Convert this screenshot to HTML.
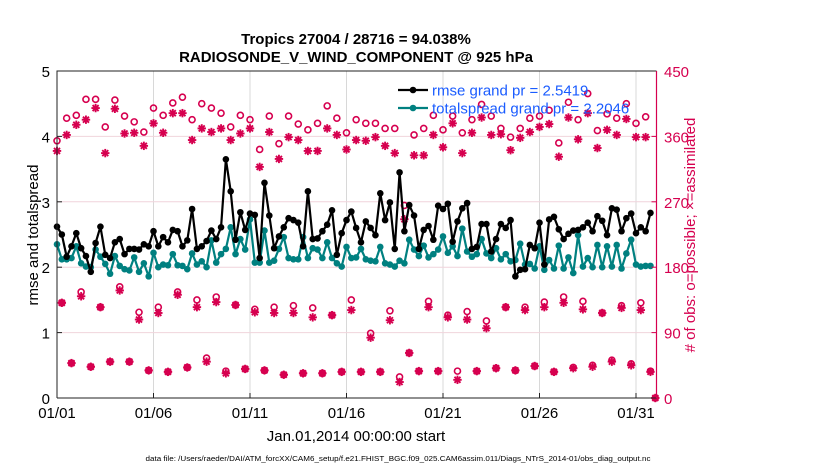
<!DOCTYPE html>
<html><head><meta charset="utf-8"><style>
html,body{margin:0;padding:0;background:#fff;}
svg{display:block;font-family:"Liberation Sans",sans-serif;}
</style></head><body>
<svg id="chart" width="830" height="470" viewBox="0 0 830 470">
<text x="356" y="44" text-anchor="middle" font-size="15" font-weight="bold">Tropics 27004 / 28716 = 94.038%</text>
<text x="356" y="62" text-anchor="middle" font-size="15" font-weight="bold">RADIOSONDE_V_WIND_COMPONENT @ 925 hPa</text>
<g id="grid"></g>
<g id="obs"></g>
<g id="lines"></g>
<g id="axes"></g>
<text transform="translate(38,235) rotate(-90)" text-anchor="middle" font-size="15">rmse and totalspread</text>
<text transform="translate(695,235) rotate(-90)" text-anchor="middle" font-size="15" fill="#d6004f"># of obs: o=possible; ×=assimilated</text>
<text x="356" y="441" text-anchor="middle" font-size="15">Jan.01,2014 00:00:00 start</text>
<text x="398" y="461" text-anchor="middle" font-size="7" textLength="505" lengthAdjust="spacingAndGlyphs">data file: /Users/raeder/DAI/ATM_forcXX/CAM6_setup/f.e21.FHIST_BGC.f09_025.CAM6assim.011/Diags_NTrS_2014-01/obs_diag_output.nc</text>
<g id="legend"></g>
</svg>
<script>
const xTickLabels=["01/01","01/06","01/11","01/16","01/21","01/26","01/31"];
const xTickDays=[0,5,10,15,20,25,30];
const yLeftTicks=[0,1,2,3,4,5];
const yRightTicks=[0,90,180,270,360,450];
const rmse=[2.62,2.5,2.16,2.32,2.52,2.29,2.17,1.93,2.37,2.62,2.19,2.14,2.38,2.43,2.2,2.28,2.28,2.27,2.35,2.32,2.55,2.32,2.46,2.38,2.57,2.55,2.32,2.41,2.89,2.28,2.32,2.4,2.56,2.43,2.61,3.65,3.16,2.42,2.84,2.57,2.82,2.8,2.14,3.29,2.79,2.29,2.47,2.61,2.75,2.72,2.68,2.32,3.16,2.43,2.44,2.55,2.65,2.87,2.19,2.52,2.72,2.85,2.6,2.38,2.7,2.6,2.49,3.13,2.72,2.99,2.28,3.45,2.55,2.95,2.79,2.28,2.57,2.63,2.42,2.94,2.89,2.97,2.39,2.7,2.9,2.98,2.28,2.31,2.66,2.66,2.24,2.43,2.66,2.6,2.72,1.86,1.96,1.97,2.34,2.29,2.68,2.04,2.73,2.77,2.58,2.43,2.51,2.56,2.57,2.61,2.68,2.55,2.78,2.71,2.49,2.9,2.88,2.55,2.75,2.82,2.52,2.61,2.55,2.83];
const spread=[2.35,2.12,2.12,2.14,2.32,2.06,2.01,2.0,2.27,2.16,2.05,1.9,2.17,2.02,1.97,1.95,2.15,1.93,2.06,1.86,2.22,2.0,2.04,2.03,2.2,2.03,2.02,1.97,2.21,2.04,2.09,2.0,2.41,2.07,2.2,2.28,2.61,2.2,2.43,2.27,2.73,2.07,2.07,2.56,2.07,2.1,2.28,2.46,2.14,2.12,2.12,2.46,2.14,2.29,2.27,2.14,2.38,2.14,2.06,2.01,2.31,2.14,2.15,2.28,2.12,2.1,2.09,2.31,2.06,2.04,2.01,2.1,2.06,2.42,2.27,2.17,2.33,2.15,2.2,2.27,2.47,2.22,2.32,2.17,2.59,2.24,2.16,2.2,2.43,2.21,2.14,2.29,2.12,2.2,2.09,2.11,2.36,2.04,2.05,1.98,2.32,1.96,2.11,1.98,2.33,1.98,2.15,1.91,2.49,2.01,2.14,2.0,2.34,2.0,2.32,2.01,2.34,1.98,2.21,2.42,2.04,2.01,2.02,2.02];
const possible=[354,131,385,48,389,146,411,43,411,125,373,50,410,153,388,50,380,118,366,38,399,125,389,36,406,146,414,42,383,135,405,55,399,139,392,37,373,128,389,40,383,122,342,38,388,125,350,32,388,127,377,34,369,124,378,34,402,114,385,36,365,135,383,36,378,89,378,36,371,120,371,29,265,62,362,37,371,133,389,37,369,114,388,37,365,119,383,37,404,106,388,41,371,125,359,38,371,125,385,44,388,132,396,36,351,139,407,42,383,133,419,45,368,117,391,52,385,127,405,47,378,131,387,37,0];
const assimilated=[340,131,362,48,376,140,383,43,399,125,337,50,398,148,364,50,365,108,347,38,378,117,365,36,392,142,392,42,355,125,371,50,366,132,371,34,355,128,364,40,371,118,318,38,366,117,329,32,359,117,355,34,340,111,340,34,371,114,362,36,342,121,355,36,354,83,359,36,347,107,337,22,246,62,334,37,334,125,362,37,345,111,378,25,337,108,365,37,386,96,362,41,363,125,341,38,358,121,366,44,373,125,377,36,332,131,386,41,356,122,392,43,344,117,369,50,362,124,384,45,359,121,359,36,0];

const NS="http://www.w3.org/2000/svg";
const X0=57,X1=656.5,Y0=398,Y1=71;
const pxPerDay=19.3;
function xDay(d){return X0+d*pxPerDay;}
function xIdx(i){return xDay(i*0.25);}
function yL(v){return Y0-(v/5)*(Y0-Y1);}
function yR(v){return Y0-(v/450)*(Y0-Y1);}
function mk(tag,attrs,parent){const e=document.createElementNS(NS,tag);for(const k in attrs)e.setAttribute(k,attrs[k]);parent.appendChild(e);return e;}
const grid=document.getElementById('grid'),axes=document.getElementById('axes'),obs=document.getElementById('obs'),lines=document.getElementById('lines'),legend=document.getElementById('legend');
const PINK="#d6004f";
xTickDays.forEach((d,k)=>{
  const x=xDay(d);
  const g=mk('line',{x1:x,x2:x,y1:Y1,y2:Y0,stroke:'#d8d8d8','stroke-width':1},grid);
  
  
  const t=mk('line',{x1:x,x2:x,y1:Y0,y2:Y0-5,stroke:'#222','stroke-width':1},axes);
  
  
  const lab=mk('text',{x:x,y:418,'text-anchor':'middle','font-size':15},axes);
  lab.textContent=xTickLabels[k];
  
  
});
yLeftTicks.forEach(v=>{
  const y=yL(v);
  if(v>0&&v<5){const g=mk('line',{x1:X0,x2:X1,y1:y,y2:y,stroke:'#f0d4dc','stroke-width':1},grid);
  
  }
  const t=mk('line',{x1:X0,x2:X0+5,y1:y,y2:y,stroke:'#222'},axes);
  
  
  const lab=mk('text',{x:50,y:y+6,'text-anchor':'end','font-size':15},axes);
  lab.textContent=v;
  
  
});
yRightTicks.forEach(v=>{
  const y=yR(v);
  const t=mk('line',{x1:X1-5,x2:X1,y1:y,y2:y,stroke:PINK},axes);
  
  
  const lab=mk('text',{x:664,y:y+6,'font-size':15,fill:PINK},axes);
  lab.textContent=v;
  
  
});
const frame=mk('path',{d:`M${X0},${Y0}V${Y1}H${X1}M${X0},${Y0}H${X1}`,stroke:'#222',fill:'none','stroke-width':1},axes);


const raxis=mk('line',{x1:X1,x2:X1,y1:Y1,y2:Y0,stroke:PINK,'stroke-width':1.2},axes);


function star(x,y,parent){
  const g=mk('g',{stroke:PINK,'stroke-width':1.9},parent);
  const r=4.2;
  mk('line',{x1:x-r,x2:x+r,y1:y,y2:y},g);
  mk('line',{x1:x,x2:x,y1:y-r,y2:y+r},g);
  mk('line',{x1:x-3,x2:x+3,y1:y-3,y2:y+3},g);
  mk('line',{x1:x-3,x2:x+3,y1:y+3,y2:y-3},g);
  return g;
}
possible.forEach((v,i)=>{
  const c=mk('circle',{cx:xIdx(i),cy:yR(v),r:3,fill:'none',stroke:PINK,'stroke-width':1.6},obs);
  
  
});
assimilated.forEach((v,i)=>{
  const s=star(xIdx(i),yR(v),obs);
  
  
});
function series(arr,color,name){
  const d=arr.map((v,i)=>(i?'L':'M')+xIdx(i).toFixed(2)+','+yL(v).toFixed(2)).join('');
  const p=mk('path',{d:d,fill:'none',stroke:color,'stroke-width':2.2,'stroke-linejoin':'round'},lines);
  
  
  arr.forEach((v,i)=>{
    const c=mk('circle',{cx:xIdx(i),cy:yL(v),r:3.3,fill:color},lines);
    
    
  });
}
series(spread,'#008080','totalspread');
series(rmse,'#000000','rmse');
[[90,'#000000','rmse grand pr = 2.5419','legend-entry-rmse'],[108,'#008080','totalspread grand pr = 2.2046','legend-entry-totalspread']].forEach(e=>{
  const g=mk('g',{},legend);
  
  
  mk('line',{x1:398,x2:428,y1:e[0],y2:e[0],stroke:e[1],'stroke-width':2.2},g);
  mk('circle',{cx:413,cy:e[0],r:3.3,fill:e[1]},g);
  const t=mk('text',{x:432,y:e[0]+5.5,'font-size':15,fill:'#1a5cff'},g);
  t.textContent=e[2];
});
</script>
</body></html>
